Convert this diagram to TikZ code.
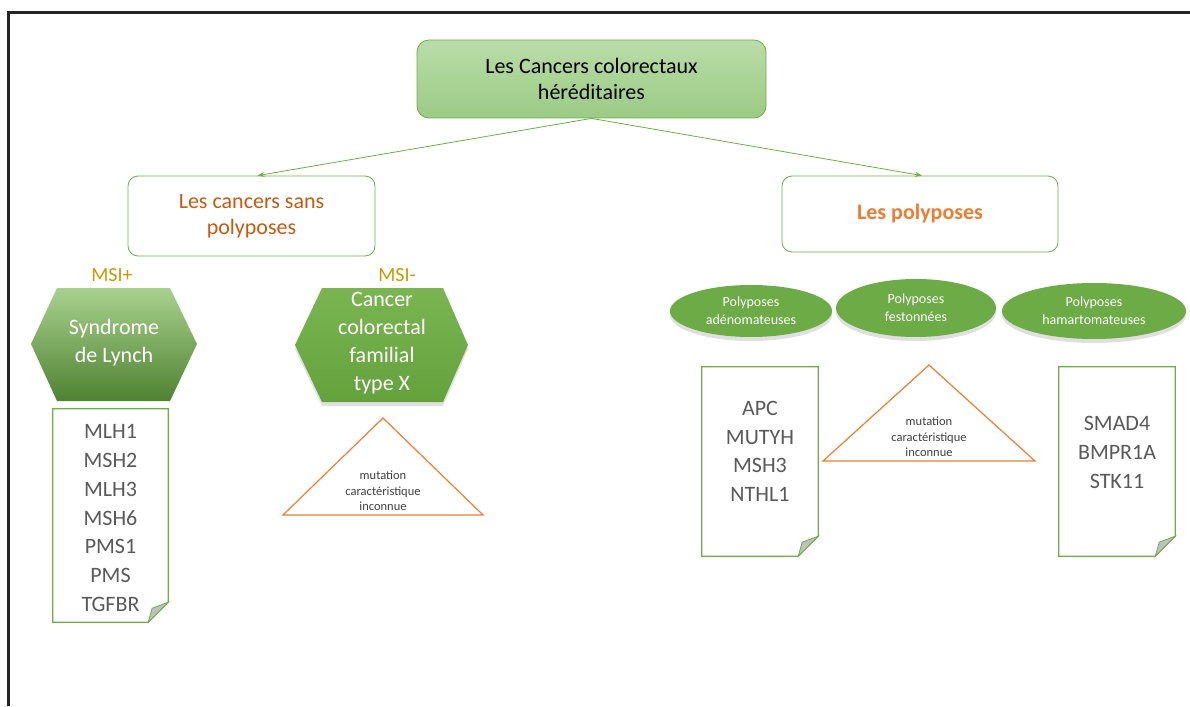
\documentclass[tikz,border=0pt]{standalone}
\usepackage{fontspec}
\setmainfont{Carlito}
\usetikzlibrary{positioning, arrows.meta, calc, shapes.geometric, shadows}
\definecolor{lineGreen}{HTML}{70AD47}
\definecolor{titleTop}{HTML}{BADCA9}
\definecolor{titleBottom}{HTML}{9BCB84}
\definecolor{hexTop}{HTML}{A9D18E}
\definecolor{hexBottom}{HTML}{4F8232}
\definecolor{hexMidTop}{HTML}{7AB552}
\definecolor{hexMidBottom}{HTML}{64A23C}
\definecolor{ellGreen}{HTML}{6CAB45}
\definecolor{brownText}{HTML}{C55A11}
\definecolor{orangeText}{HTML}{ED7D31}
\definecolor{msiGold}{HTML}{C79A00}
\definecolor{geneGray}{HTML}{595959}
\definecolor{foldGray}{HTML}{C0C0C0}
\definecolor{frameGray}{HTML}{262626}

\tikzset{
  catbox/.style={draw=lineGreen, thick, rounded corners=10pt, fill=white, align=center},
  hextext/.style={text=white, align=center, font=\fontsize{22}{28}\selectfont},
  msitext/.style={text=msiGold, font=\fontsize{20}{24}\selectfont},
  docbox/.style={inner sep=0pt},
  genetext/.style={text=geneGray, align=center, font=\fontsize{22}{28.7}\selectfont},
  triline/.style={draw=orangeText, line width=1.2pt, line join=miter},
  tritext/.style={text=black!75, align=center, font=\fontsize{12.5}{15.5}\selectfont},
  polyell/.style={ellipse, fill=ellGreen, inner sep=0pt, text=white, align=center,
    font=\fontsize{14}{18}\selectfont,
    drop shadow={opacity=0.25, shadow xshift=0pt, shadow yshift=-4pt}}
}

\begin{document}
\begin{tikzpicture}[x=1pt, y=-1pt, font=\fontsize{22}{26}\selectfont,
    >={Stealth[length=7pt, width=5pt]}]
  \useasboundingbox (0,0) rectangle (1190,706);
  % cadre
  \draw[line width=2.4pt, frameGray] (8.5,706) -- (8.5,12.5) -- (1190,12.5);

  % titre et deux familles
  \node[draw=lineGreen, thick, rounded corners=12pt, top color=titleTop, bottom color=titleBottom,
        minimum width=349pt, minimum height=78pt, align=center] (title) at (591.5,79)
        {Les Cancers colorectaux\\héréditaires};
  \node[catbox, minimum width=247pt, minimum height=80pt, text=brownText] (sans) at (251.5,216)
        {Les cancers sans\\polyposes};
  \node[catbox, minimum width=276pt, minimum height=76pt, text=orangeText,
        font=\fontsize{22}{26}\selectfont\bfseries] (poly) at (920,214) {Les polyposes};
  \draw[->, lineGreen, thick] (title.south) -- ([xshift=6pt]sans.north);
  \draw[->, lineGreen, thick] (title.south) -- ([xshift=2pt]poly.north);

  % cancers sans polyposes
  \node[msitext] (msiplus) at (112,275) {MSI+};
  \node[msitext] (msiminus) at (397,275) {MSI-};
  \shade[top color=hexTop, bottom color=hexBottom]
    (31,344) -- (57,288) -- (170,288) -- (197,344) -- (170,401) -- (57,401) -- cycle;
  \node[hextext] (lynch) at (114,343) {Syndrome\\de Lynch};
  \shade[top color=hexMidTop, bottom color=hexMidBottom,
         drop shadow={opacity=0.25, shadow xshift=0pt, shadow yshift=-4pt}]
    (295,345) -- (322,288) -- (443,288) -- (468,345) -- (443,402) -- (322,402) -- cycle;
  \node[hextext] (typex) at (382,343) {Cancer\\colorectal\\familial\\type X};

  \node[docbox, minimum width=115pt, minimum height=213pt] (lynchdoc) at (110.5,515.5) {};
  \node[genetext] (lynchgenes) at ([yshift=-2.5pt]lynchdoc.center)
        {MLH1\\MSH2\\MLH3\\MSH6\\PMS1\\PMS\\TGFBR};

  \draw[triline] (383,418) -- (483,515) -- (283,515) -- cycle;
  \node[tritext] (typexmut) at (383,491) {mutation\\caractéristique\\inconnue};

  % polyposes
  \node[polyell, minimum width=162pt, minimum height=52pt] (adeno) at (751,311)
        {Polyposes\\adénomateuses};
  \node[polyell, minimum width=160pt, minimum height=58pt] (feston) at (916,308)
        {Polyposes\\festonnées};
  \node[polyell, minimum width=184pt, minimum height=56pt] (hamart) at (1094,311)
        {Polyposes\\hamartomateuses};

  \node[docbox, minimum width=116pt, minimum height=189pt] (adendoc) at (760,461.5) {};
  \node[genetext] (adengenes) at ([yshift=10pt]adendoc.center) {APC\\MUTYH\\MSH3\\NTHL1};
  \node[docbox, minimum width=116pt, minimum height=189pt] (hamdoc) at (1117,461.5) {};
  \node[genetext] (hamgenes) at ([yshift=9pt]hamdoc.center) {SMAD4\\BMPR1A\\STK11};

  \draw[triline] (929,365) -- (1035,461) -- (823,461) -- cycle;
  \node[tritext] (festonmut) at (929,437) {mutation\\caractéristique\\inconnue};

  % feuilles a coin plie
  \foreach \d in {lynchdoc, adendoc, hamdoc} {
    \draw[lineGreen, line width=1.2pt] (\d.north west) -- (\d.north east)
      -- ([yshift=20pt]\d.south east) -- ([xshift=-20pt]\d.south east)
      -- (\d.south west) -- cycle;
    \filldraw[fill=foldGray, draw=lineGreen, line width=0.8pt] ([yshift=20pt]\d.south east)
      -- ([xshift=-20pt]\d.south east) -- ([xshift=-16pt, yshift=14pt]\d.south east) -- cycle;
  }
\end{tikzpicture}
\end{document}
